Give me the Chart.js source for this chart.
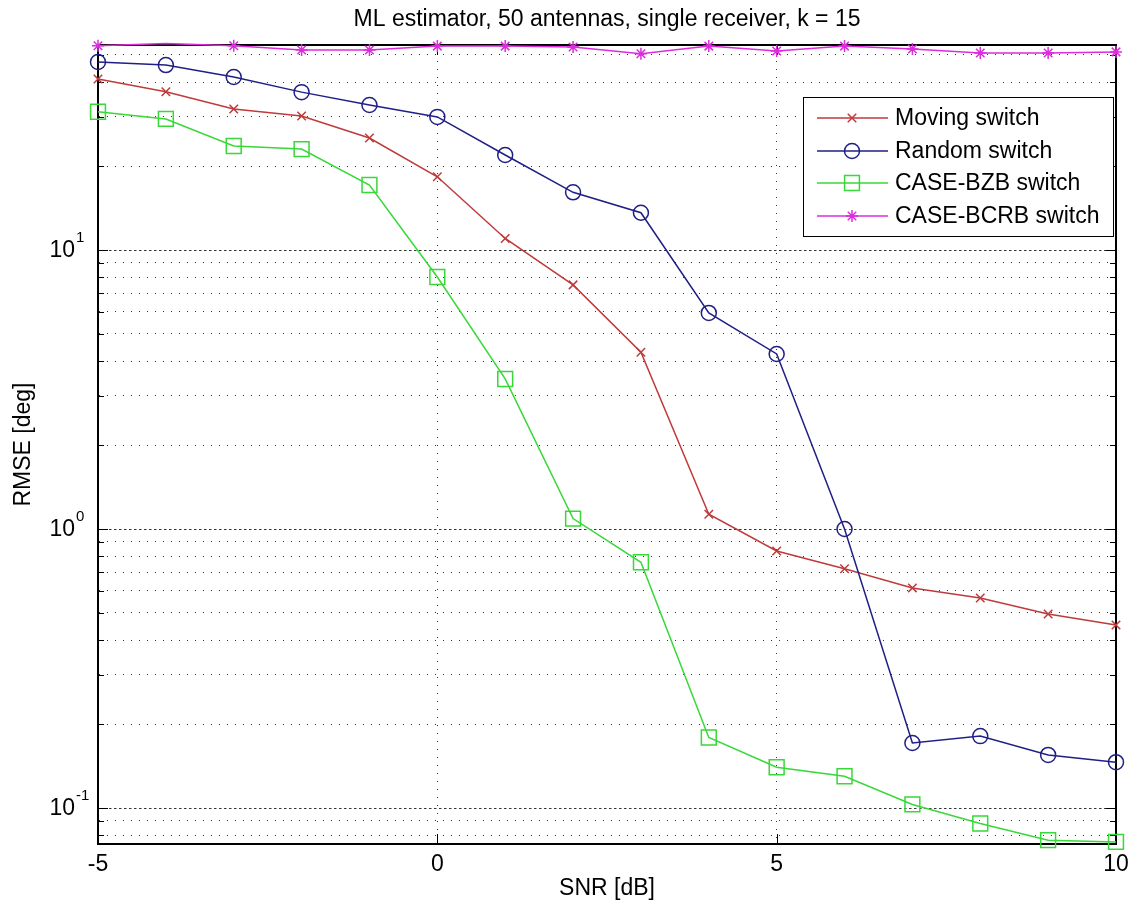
<!DOCTYPE html>
<html>
<head>
<meta charset="utf-8">
<title>ML estimator, 50 antennas</title>
<script src="https://cdn.jsdelivr.net/npm/chart.js@4.4.0/dist/chart.umd.min.js"></script>
<style>
  html, body { margin: 0; padding: 0; background: #fff; }
  #wrap { width: 1137px; height: 907px; }
</style>
</head>
<body>
<div id="wrap"><canvas id="rmse"></canvas></div>
<script>
// SNR axis [dB]
var snr = [-5, -4, -3, -2, -1, 0, 1, 2, 3, 4, 5, 6, 7, 8, 9, 10];

// RMSE [deg] for each switch
var movingSwitch = [41, 36.9, 32, 30.2, 25.2, 18.3, 11.0, 7.5, 4.3, 1.13, 0.834, 0.72, 0.615, 0.566, 0.496, 0.453];
var randomSwitch = [47.2, 46, 41.7, 36.8, 33.1, 30, 21.9, 16.1, 13.6, 5.95, 4.24, 1.0, 0.171, 0.181, 0.155, 0.146];
var bzbSwitch = [31.3, 29.5, 23.6, 23.0, 17.1, 8.0, 3.45, 1.09, 0.76, 0.179, 0.14, 0.13, 0.103, 0.088, 0.0767, 0.0756];
var bcrbSwitch = [54, 55, 54, 52.1, 52.1, 53.8, 53.8, 53.4, 50.5, 53.8, 51.7, 53.8, 52.5, 50.8, 50.8, 51.3];

var seriesNames = ['Moving switch', 'Random switch', 'CASE-BZB switch', 'CASE-BCRB switch'];

// ticks / grid
var xTicks = [-5, 0, 5, 10];
var yGrid = [0.08, 0.09, 0.1, 0.2, 0.3, 0.4, 0.5, 0.6, 0.7, 0.8, 0.9, 1, 2, 3, 4, 5, 6, 7, 8, 9, 10, 20, 30, 40, 50];
var yLabelled = [0.1, 1, 10];
var yExponents = ['-1', '0', '1'];
var yMin = 0.0743, yMax = 54.3;

var FONT = '"Liberation Sans", Arial, Helvetica, sans-serif';
var gridColor = 'rgba(0,0,0,0.8)';

function points(vals) {
  return snr.map(function (x, i) { return { x: x, y: vals[i] }; });
}

function series(i, vals, color, style, radius, order) {
  return {
    label: seriesNames[i],
    data: points(vals),
    borderColor: color,
    borderWidth: 1.5,
    pointStyle: style,
    pointRadius: function (ctx) {
      // markers outside the axes are not shown (like matlab)
      return ctx.raw && ctx.raw.y > yMax ? 0 : radius;
    },
    pointBorderWidth: 1.5,
    pointBorderColor: color,
    pointBackgroundColor: 'rgba(0,0,0,0)',
    tension: 0,
    clip: false,
    order: order
  };
}

var datasets = [
  series(0, movingSwitch, '#bf3a3a', 'crossRot', 6, 4),
  series(1, randomSwitch, '#1f1f86', 'circle', 7.5, 3),
  series(2, bzbSwitch, '#38d838', 'rect', 10.5, 2),
  series(3, bcrbSwitch, '#dc2cdc', 'star', 6, 1)
];

// white background, box on top/right and inward ticks
var frame = {
  id: 'frame',
  beforeDraw: function (chart) {
    var ctx = chart.ctx;
    ctx.save();
    ctx.fillStyle = '#fff';
    ctx.fillRect(0, 0, chart.width, chart.height);
    ctx.restore();
  },
  beforeDatasetsDraw: function (chart) {
    var ctx = chart.ctx, a = chart.chartArea;
    var xs = chart.scales.x, ys = chart.scales.y;
    ctx.save();
    ctx.strokeStyle = '#000';
    ctx.lineWidth = 1;
    ctx.beginPath();
    yGrid.forEach(function (v) {
      var py = Math.round(ys.getPixelForValue(v)) + 0.5;
      var len = yLabelled.indexOf(v) >= 0 ? 10 : 6;
      ctx.moveTo(a.left, py); ctx.lineTo(a.left + len, py);
      ctx.moveTo(a.right - len, py); ctx.lineTo(a.right, py);
    });
    xTicks.forEach(function (v) {
      var px = Math.round(xs.getPixelForValue(v)) + 0.5;
      ctx.moveTo(px, a.bottom); ctx.lineTo(px, a.bottom - 10);
      ctx.moveTo(px, a.top); ctx.lineTo(px, a.top + 10);
    });
    ctx.stroke();
    ctx.lineWidth = 2;
    ctx.beginPath();
    ctx.moveTo(a.left, a.top); ctx.lineTo(a.right, a.top); ctx.lineTo(a.right, a.bottom);
    ctx.stroke();
    ctx.restore();
  },
  afterDraw: function (chart) {
    var ctx = chart.ctx, ys = chart.scales.y;
    ctx.save();
    ctx.fillStyle = '#000';
    ctx.textBaseline = 'middle';
    // y tick labels 10^n
    yLabelled.forEach(function (v, i) {
      var py = ys.getPixelForValue(v);
      ctx.font = '23px ' + FONT;
      ctx.textAlign = 'right';
      ctx.fillText('10', 75, py + 1);
      ctx.font = '15px ' + FONT;
      ctx.textAlign = 'left';
      ctx.fillText(yExponents[i], 76, py - 12);
    });

    // legend
    var box = { left: 803, top: 97, right: 1113, bottom: 236 };
    ctx.fillStyle = '#fff';
    ctx.fillRect(box.left, box.top, box.right - box.left, box.bottom - box.top);
    ctx.strokeStyle = '#000';
    ctx.lineWidth = 1;
    ctx.strokeRect(box.left + 0.5, box.top + 0.5, box.right - box.left, box.bottom - box.top);
    var rowY = [118, 151, 183, 216];
    chart.data.datasets.forEach(function (ds, i) {
      var y = rowY[i];
      ctx.strokeStyle = ds.borderColor;
      ctx.lineWidth = 1.5;
      ctx.beginPath();
      ctx.moveTo(817, y); ctx.lineTo(888, y);
      ctx.stroke();
      var r = { crossRot: 6, circle: 7.5, rect: 10.5, star: 6 }[ds.pointStyle];
      ctx.fillStyle = 'rgba(0,0,0,0)';
      Chart.helpers.drawPoint(ctx, { pointStyle: ds.pointStyle, radius: r, borderWidth: 1.5, rotation: 0 }, 852, y);
      ctx.fillStyle = '#000';
      ctx.font = '23px ' + FONT;
      ctx.textAlign = 'left';
      ctx.fillText(ds.label, 895, y + 1);
    });
    ctx.restore();
  }
};

var chart = new Chart(document.getElementById('rmse'), {
  type: 'line',
  data: { datasets: datasets },
  options: {
    responsive: true,
    maintainAspectRatio: false,
    animation: false,
    layout: { padding: { left: 0, right: 21, top: 0, bottom: 0 } },
    plugins: {
      legend: { display: false },
      tooltip: { enabled: false },
      title: {
        display: true,
        fullSize: false,
        text: 'ML estimator, 50 antennas, single receiver, k = 15',
        color: '#000',
        font: { family: FONT, size: 23, weight: 'normal', lineHeight: '27px' },
        padding: { top: 6, bottom: 12 }
      }
    },
    scales: {
      x: {
        type: 'linear',
        min: -5,
        max: 10,
        afterBuildTicks: function (s) { s.ticks = xTicks.map(function (v) { return { value: v }; }); },
        afterFit: function (s) { s.height = 63; },
        ticks: {
          color: '#000',
          font: { family: FONT, size: 23 },
          padding: 7,
          maxRotation: 0,
          autoSkip: false,
          callback: function (v) { return String(v); }
        },
        grid: { color: gridColor, lineWidth: 1, drawTicks: false },
        border: { color: '#000', width: 2, dash: [1, 7] },
        title: {
          display: true,
          text: 'SNR [dB]',
          color: '#000',
          font: { family: FONT, size: 23 },
          padding: { top: 0, bottom: 5 }
        }
      },
      y: {
        type: 'logarithmic',
        min: yMin,
        max: yMax,
        afterBuildTicks: function (s) { s.ticks = yGrid.map(function (v) { return { value: v }; }); },
        afterFit: function (s) { s.width = 98; },
        ticks: { display: false },
        grid: { color: gridColor, lineWidth: 1, drawTicks: false },
        border: {
          color: '#000',
          width: 2,
          dash: function (ctx) {
            return ctx.tick && yLabelled.indexOf(ctx.tick.value) >= 0 ? [2.5, 2.5] : [1, 7];
          }
        },
        title: {
          display: true,
          text: 'RMSE [deg]',
          color: '#000',
          font: { family: FONT, size: 23 },
          padding: { top: 10, bottom: 0 }
        }
      }
    }
  },
  plugins: [frame]
});
</script>
</body>
</html>
